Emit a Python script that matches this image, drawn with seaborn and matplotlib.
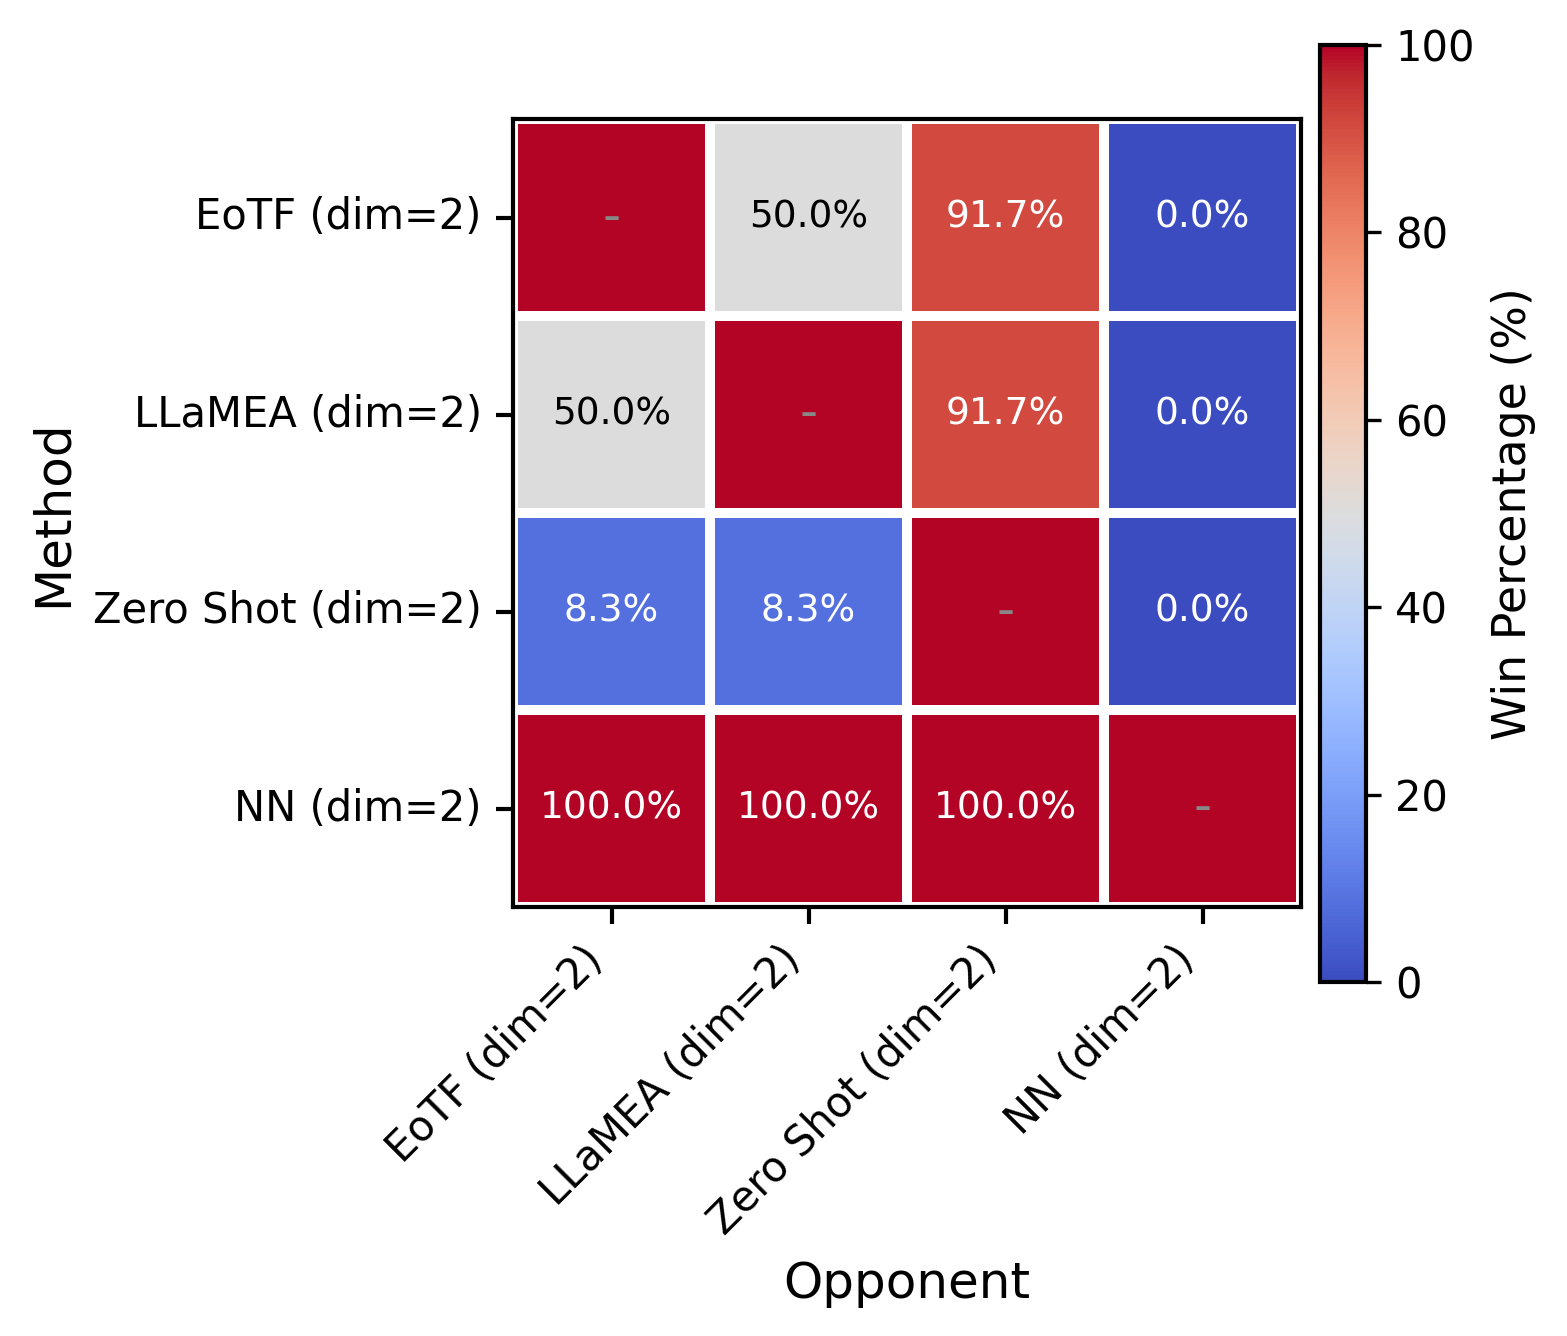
import numpy as np
import matplotlib
matplotlib.use("Agg")
import matplotlib.pyplot as plt
import seaborn as sns

methods = ["EoTF (dim=2)", "LLaMEA (dim=2)", "Zero Shot (dim=2)", "NN (dim=2)"]
opponents = ["EoTF (dim=2)", "LLaMEA (dim=2)", "Zero Shot (dim=2)", "NN (dim=2)"]

# win percentage of row method vs column opponent (diagonal drawn as 100, labelled "-")
win_eotf = [100.0, 50.0, 91.7, 0.0]
win_llamea = [50.0, 100.0, 91.7, 0.0]
win_zeroshot = [8.3, 8.3, 100.0, 0.0]
win_nn = [100.0, 100.0, 100.0, 100.0]

win = np.array([win_eotf, win_llamea, win_zeroshot, win_nn])

labels = np.empty(win.shape, dtype=object)
for i in range(win.shape[0]):
    for j in range(win.shape[1]):
        labels[i, j] = "-" if i == j else f"{win[i, j]:.1f}%"

fig = plt.figure(figsize=(1567 / 300, 1336 / 300), dpi=300)
ax = fig.add_axes([513 / 1567, (1336 - 907) / 1336, 788 / 1567, 788 / 1336])
cax = fig.add_axes([1320 / 1567, (1336 - 982) / 1336, 46 / 1567, 937 / 1336])

sns.heatmap(
    win,
    ax=ax,
    cbar_ax=cax,
    cmap="coolwarm",
    vmin=0,
    vmax=100,
    annot=labels,
    fmt="",
    annot_kws={"size": 9},
    linewidths=2,
    linecolor="white",
    square=True,
    xticklabels=opponents,
    yticklabels=methods,
    cbar_kws={"label": "Win Percentage (%)"},
)

# text colours: diagonal dash gray, light cells black, rest white
for t in ax.texts:
    if t.get_text() == "-":
        t.set_color("#888888")
        t.set_fontsize(12)
    elif t.get_text() == "50.0%":
        t.set_color("black")
    else:
        t.set_color("white")

for s in ax.spines.values():
    s.set_visible(True)
    s.set_color("black")
    s.set_linewidth(1)

ax.set_xlabel("Opponent", fontsize=12)
ax.set_ylabel("Method", fontsize=12)
ax.tick_params(axis="both", labelsize=10, length=4, width=1)
plt.setp(ax.get_xticklabels(), rotation=45, ha="right")
plt.setp(ax.get_yticklabels(), rotation=0)

cbar = ax.collections[0].colorbar
cbar.set_ticks([0, 20, 40, 60, 80, 100])
cbar.ax.tick_params(labelsize=10)
cbar.set_label("Win Percentage (%)", fontsize=11)
cbar.outline.set_visible(True)
cbar.outline.set_edgecolor("black")
cbar.outline.set_linewidth(1)

fig.savefig("out.png", dpi=300)
